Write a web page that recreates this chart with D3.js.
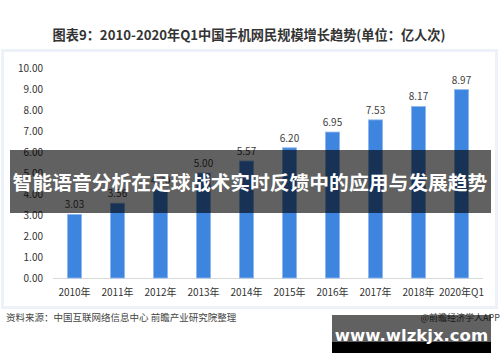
<!DOCTYPE html>
<html>
<head>
<meta charset="utf-8">
<script src="https://cdn.jsdelivr.net/npm/d3@7"></script>
<style>
  body { margin: 0; background: #fff; }
  svg { display: block; }
</style>
</head>
<body>
<script>
var width = 500,
    height = 362;

// chart data
const years = ["2010年", "2011年", "2012年", "2013年", "2014年", "2015年", "2016年", "2017年", "2018年", "2020年Q1"];
const users = [3.03, 3.56, 4.20, 5.00, 5.57, 6.20, 6.95, 7.53, 8.17, 8.97];
const yTicks = [0, 1, 2, 3, 4, 5, 6, 7, 8, 9, 10];

const font = "'Noto Sans CJK SC', 'Noto Sans', sans-serif";

const svg = d3.select("body")
    .append("svg")
    .attr("width", width)
    .attr("height", height);

// faint panel behind the chart
svg.append("rect")
    .attr("x", 2.5).attr("y", 50.5)
    .attr("width", 494).attr("height", 257)
    .attr("fill", "none")
    .attr("stroke", "#edf2f9")
    .attr("stroke-width", 3);

// title
svg.append("text")
    .attr("x", 249).attr("y", 40)
    .attr("text-anchor", "middle")
    .attr("font-family", font)
    .attr("font-weight", "bold")
    .attr("font-size", 13.2)
    .attr("fill", "#333")
    .text("图表9：2010-2020年Q1中国手机网民规模增长趋势(单位：亿人次)");

var x = d3.scaleBand()
    .domain(years)
    .range([53, 483])
    .paddingInner(0.67)
    .paddingOuter(0.335);

var y = d3.scaleLinear()
    .domain([0, 10])
    .range([278, 68]);

// y axis labels
svg.append("g")
    .selectAll("text")
    .data(yTicks)
    .enter()
    .append("text")
    .attr("x", 43)
    .attr("y", function (d) { return y(d); })
    .attr("dy", "0.35em")
    .attr("text-anchor", "end")
    .attr("font-family", font)
    .attr("font-size", 10)
    .attr("fill", "#333")
    .text(function (d) { return d.toFixed(2); });

// baseline
svg.append("line")
    .attr("x1", 53).attr("x2", 483)
    .attr("y1", y(0) + 0.5).attr("y2", y(0) + 0.5)
    .attr("stroke", "#d9d9d9");

// bars
svg.append("g")
    .selectAll("rect")
    .data(users)
    .enter()
    .append("rect")
    .attr("x", function (d, i) { return x(years[i]); })
    .attr("y", function (d) { return y(d); })
    .attr("width", x.bandwidth())
    .attr("height", function (d) { return y(0) - y(d); })
    .attr("fill", "#3e85e0")
    .attr("stroke", "#8fb8ef")
    .attr("stroke-width", 0.8);

// value labels
svg.append("g")
    .selectAll("text")
    .data(users)
    .enter()
    .append("text")
    .attr("x", function (d, i) { return x(years[i]) + x.bandwidth() / 2; })
    .attr("y", function (d) { return y(d) - 6; })
    .attr("text-anchor", "middle")
    .attr("font-family", font)
    .attr("font-size", 10)
    .attr("fill", "#404040")
    .text(function (d) { return d.toFixed(2); });

// x labels
svg.append("g")
    .selectAll("text")
    .data(years)
    .enter()
    .append("text")
    .attr("x", function (d) { return x(d) + x.bandwidth() / 2; })
    .attr("y", 292)
    .attr("dy", "0.35em")
    .attr("text-anchor", "middle")
    .attr("font-family", font)
    .attr("font-size", 10)
    .attr("fill", "#333")
    .text(function (d) { return d; });

// source line
svg.append("text")
    .attr("x", 6).attr("y", 321)
    .attr("font-family", font)
    .attr("font-size", 9.5)
    .attr("fill", "#444")
    .text("资料来源：中国互联网络信息中心 前瞻产业研究院整理");

svg.append("text")
    .attr("x", 500).attr("y", 321)
    .attr("text-anchor", "end")
    .attr("font-family", font)
    .attr("font-size", 9)
    .attr("fill", "#444")
    .text("@前瞻经济学人APP");

// dark banner over the chart
svg.append("rect")
    .attr("x", 10).attr("y", 150)
    .attr("width", 481).attr("height", 63)
    .attr("fill", "#000")
    .attr("fill-opacity", 0.62);

svg.append("text")
    .attr("x", 250).attr("y", 183)
    .attr("dy", "0.35em")
    .attr("text-anchor", "middle")
    .attr("font-family", font)
    .attr("font-weight", "bold")
    .attr("font-size", 19.8)
    .attr("fill", "#fff")
    .text("智能语音分析在足球战术实时反馈中的应用与发展趋势");

// site box
svg.append("rect")
    .attr("x", 332).attr("y", 315)
    .attr("width", 159).attr("height", 27)
    .attr("fill", "#000")
    .attr("fill-opacity", 0.62);

svg.append("rect")
    .attr("x", 332).attr("y", 342)
    .attr("width", 159).attr("height", 11)
    .attr("fill", "#000");

svg.append("text")
    .attr("x", 411.5).attr("y", 341)
    .attr("text-anchor", "middle")
    .attr("font-family", "'DejaVu Sans', sans-serif")
    .attr("font-weight", "bold")
    .attr("font-size", 16.5)
    .attr("fill", "#fff")
    .text("www.wlzkjx.com");
</script>
</body>
</html>
